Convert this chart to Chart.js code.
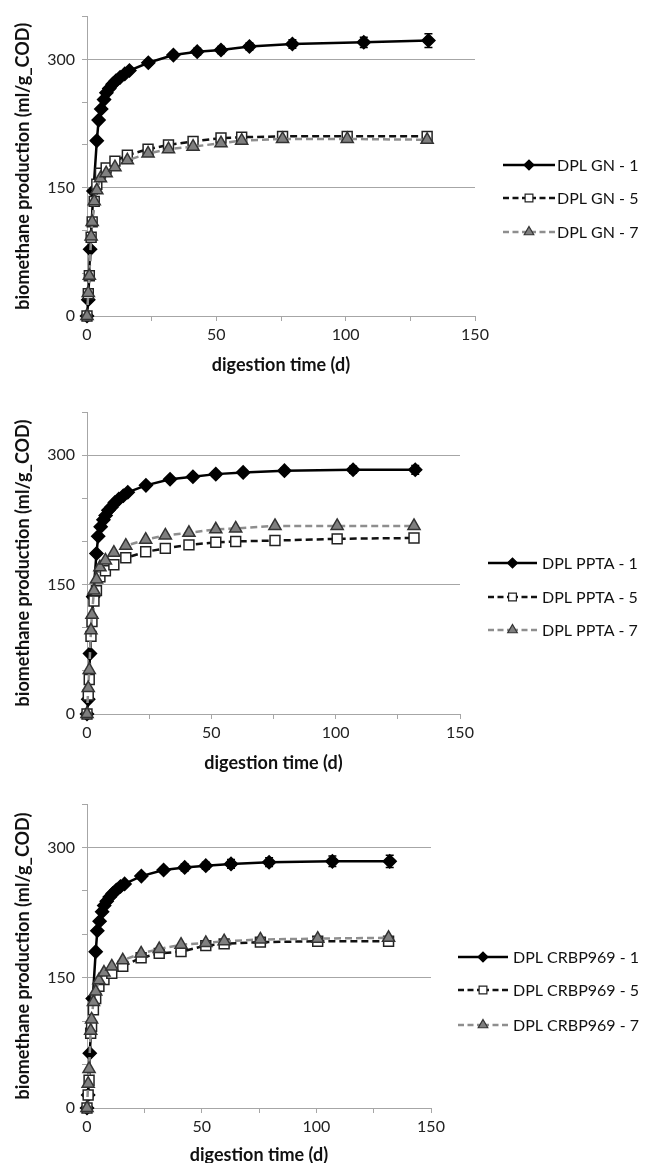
<!DOCTYPE html>
<html>
<head>
<meta charset="utf-8">
<script src="https://cdn.jsdelivr.net/npm/chart.js@4.4.1/dist/chart.umd.min.js"></script>
<style>
  body { margin: 0; background: #fff; overflow: hidden; width: 647px; height: 1163px; position: relative; }
  canvas { position: absolute; left: 0; }
</style>
</head>
<body>
<canvas id="gn" width="647" height="380" style="top:0px"></canvas>
<canvas id="ppta" width="647" height="400" style="top:380px"></canvas>
<canvas id="crbp" width="647" height="390" style="top:780px"></canvas>
<script>
//Sampling days (d)
const days1 = [0, 0.5, 1.2, 2.5, 3.8, 4.5, 5.5, 6.6, 7.5, 8.6, 9.9, 11.2, 12.8, 14.6, 16.4, 23.7, 33.4, 42.6, 51.8, 62.8, 79.4, 107, 132];
const days57 = [0, 0.5, 0.9, 1.6, 2.0, 2.8, 3.8, 5.2, 7.4, 10.8, 15.6, 23.6, 31.5, 41, 51.8, 59.8, 75.6, 100.6, 131.5];

//Cumulative biomethane production (ml/g_COD)
const gn1 = [0, 19, 78, 146, 205, 229, 242, 253, 261, 266, 271, 275, 279, 283, 287, 296, 305, 309, 311, 315, 318, 320, 322];
const gn5 = [0, 26, 47, 92, 110, 134, 154, 167, 173, 181, 188, 195, 200, 204, 208, 209, 210, 210, 210];
const gn7 = [0, 27, 47, 93, 110, 134, 147, 161, 167, 174, 182, 190, 195, 198, 202, 205, 207, 207, 206];

const ppta1 = [0, 17, 70, 136, 186, 206, 217, 225, 230, 236, 240, 245, 249, 253, 257, 265, 272, 275, 278, 280, 282, 283, 283];
const ppta5 = [0, 22, 40, 90, 107, 131, 143, 159, 166, 173, 181, 188, 192, 196, 199, 200, 201, 203, 204];
const ppta7 = [0, 30, 51, 97, 115, 143, 156, 170, 178, 187, 195, 202, 207, 210, 214, 215, 218, 218, 218];

const crbp1 = [0, 15, 63, 126, 180, 204, 215, 226, 233, 238, 243, 247, 251, 255, 258, 267, 274, 277, 279, 281, 283, 284, 284];
const crbp5 = [0, 15, 32, 86, 94, 113, 126, 140, 148, 155, 163, 173, 178, 180, 187, 189, 191, 192, 192];
const crbp7 = [0, 28, 45, 89, 102, 122, 134, 147, 156, 163, 170, 178, 183, 188, 190, 192, 194, 195, 196];

//Standard deviations of the "- 1" series
const gnErr = [0, 0, 0, 0, 0, 0, 0, 0, 0, 0, 0, 0, 0, 0, 0, 3, 3, 4, 4, 4, 5, 6, 8];
const pptaErr = [0, 0, 0, 0, 0, 0, 0, 0, 0, 0, 0, 0, 0, 0, 0, 2, 2, 3, 3, 3, 3, 4, 5];
const crbpErr = [0, 0, 0, 0, 0, 0, 0, 0, 0, 0, 0, 0, 0, 0, 0, 3, 3, 4, 4, 5, 5, 6, 7];

const yTicksShown = [0, 150, 300];
const xTicksShown = [0, 50, 100, 150];
const xTitle = 'digestion time (d)';
const yTitle = 'biomethane production (ml/g_COD)';

const FONT = 'Lato, "Open Sans", sans-serif';
const AXIS_GREY = '#a6a6a6';

const styles = [
    { color: '#000', dash: [], pointStyle: 'rectRot', radius: 6.5, fill: '#000', stroke: '#000', legendRadius: 5 },
    { color: '#111', dash: [7, 4], pointStyle: 'rect', radius: 7, fill: '#fff', stroke: '#222', legendRadius: 5.5 },
    { color: '#8e8e8e', dash: [7, 4], pointStyle: 'triangle', radius: 7, fill: '#7f7f7f', stroke: '#333', legendRadius: 5.5 }
];

function toPoints(xs, ys) {
    return xs.map((x, i) => ({ x: x, y: ys[i] }));
}

function makeChart(id, opt) {
    const names = opt.names;
    const series = [
        toPoints(days1, opt.s1),
        toPoints(days57, opt.s5),
        toPoints(days57, opt.s7)
    ];

    const datasets = series.map((pts, k) => ({
        label: names[k],
        data: pts,
        borderColor: styles[k].color,
        borderWidth: 2.5,
        borderDash: styles[k].dash,
        tension: 0,
        clip: false,
        pointStyle: styles[k].pointStyle,
        pointRadius: styles[k].radius,
        pointBackgroundColor: styles[k].fill,
        pointBorderColor: styles[k].stroke,
        pointBorderWidth: 1.5,
        order: 3 - k
    }));

    const errorBars = { //draws the +/- sd whiskers of the first series
        id: 'errorBars',
        afterDatasetsDraw(chart) {
            const c = chart.ctx;
            const ys = chart.scales.y, xs = chart.scales.x;
            c.save();
            c.strokeStyle = '#000';
            c.lineWidth = 1.5;
            opt.err.forEach((e, i) => {
                if (!e) return;
                const px = xs.getPixelForValue(days1[i]);
                const top = ys.getPixelForValue(opt.s1[i] + e);
                const bot = ys.getPixelForValue(opt.s1[i] - e);
                c.beginPath();
                c.moveTo(px, top); c.lineTo(px, bot);
                c.moveTo(px - 4, top); c.lineTo(px + 4, top);
                c.moveTo(px - 4, bot); c.lineTo(px + 4, bot);
                c.stroke();
            });
            c.restore();
        }
    };

    const sideLegend = { //legend with line sample + marker, like the excel one
        id: 'sideLegend',
        afterDraw(chart) {
            const c = chart.ctx;
            const L = opt.legend;
            const mid = (L.x0 + L.x1) / 2;
            c.save();
            datasets.forEach((ds, k) => {
                const y = L.rows[k];
                c.strokeStyle = styles[k].color;
                c.lineWidth = 2.5;
                c.setLineDash(k === 0 ? [] : [6, 3.5]);
                //each half starts at its outer end so the dashes sit symmetric
                c.beginPath();
                c.moveTo(L.x0, y);
                c.lineTo(mid, y);
                c.stroke();
                c.beginPath();
                c.moveTo(L.x1, y);
                c.lineTo(mid, y);
                c.stroke();
                c.setLineDash([]);
                c.fillStyle = styles[k].fill;
                c.strokeStyle = styles[k].stroke;
                c.lineWidth = 1.2;
                Chart.helpers.drawPoint(c, { pointStyle: styles[k].pointStyle, radius: styles[k].legendRadius, rotation: 0, borderWidth: 1.2 }, mid, y);
                c.fillStyle = '#111';
                c.font = '16px ' + FONT;
                c.textBaseline = 'middle';
                c.textAlign = 'left';
                c.fillText(ds.label, L.tx, y + 1);
            });
            c.restore();
        }
    };

    const canvas = document.getElementById(id);
    const H = canvas.height;

    return new Chart(canvas, {
        type: 'line',
        data: { datasets: datasets },
        plugins: [errorBars, sideLegend],
        options: {
            responsive: false,
            animation: false,
            layout: { padding: { left: 0, top: opt.top, right: 647 - opt.right, bottom: 0 } },
            plugins: {
                legend: { display: false },
                tooltip: { enabled: false }
            },
            scales: {
                x: {
                    type: 'linear',
                    min: 0,
                    max: 150,
                    ticks: {
                        stepSize: 25,
                        autoSkip: false,
                        maxRotation: 0,
                        padding: 4,
                        color: '#222',
                        font: { family: FONT, size: 16 },
                        callback: v => xTicksShown.includes(v) ? v : ''
                    },
                    grid: { drawOnChartArea: false, drawTicks: true, tickLength: 5, tickColor: AXIS_GREY },
                    border: { color: AXIS_GREY, width: 1 },
                    title: {
                        display: true,
                        text: xTitle,
                        color: '#111',
                        font: { family: FONT, size: 18, weight: 'bold' },
                        padding: { top: 0, bottom: opt.xTitlePad }
                    },
                    afterFit: scale => { scale.height = H - opt.bottom; }
                },
                y: {
                    min: 0,
                    max: 350,
                    ticks: {
                        stepSize: 50,
                        autoSkip: false,
                        padding: 7,
                        color: '#222',
                        font: { family: FONT, size: 16 },
                        callback: v => yTicksShown.includes(v) ? v : ''
                    },
                    grid: {
                        color: c => (c.tick && c.tick.value > 0 && c.tick.value % 150 === 0) ? AXIS_GREY : 'rgba(0,0,0,0)',
                        lineWidth: 1,
                        tickLength: 5,
                        tickColor: AXIS_GREY
                    },
                    border: { color: AXIS_GREY, width: 1 },
                    title: {
                        display: true,
                        text: yTitle,
                        color: '#111',
                        font: { family: FONT, size: 18, weight: 'bold' },
                        padding: { top: 12, bottom: 0 }
                    },
                    afterFit: scale => { scale.width = 87; }
                }
            }
        }
    });
}

makeChart('gn', {
    names: ['DPL GN - 1', 'DPL GN - 5', 'DPL GN - 7'],
    s1: gn1, s5: gn5, s7: gn7, err: gnErr,
    top: 13, bottom: 316, right: 475, xTitlePad: 4,
    legend: { x0: 503, x1: 555, tx: 557, rows: [165, 198, 232] }
});

makeChart('ppta', {
    names: ['DPL PPTA - 1', 'DPL PPTA - 5', 'DPL PPTA - 7'],
    s1: ppta1, s5: ppta5, s7: ppta7, err: pptaErr,
    top: 32, bottom: 334, right: 460, xTitlePad: 6,
    legend: { x0: 488, x1: 537, tx: 542, rows: [183, 217, 250] }
});

makeChart('crbp', {
    names: ['DPL CRBP969 - 1', 'DPL CRBP969 - 5', 'DPL CRBP969 - 7'],
    s1: crbp1, s5: crbp5, s7: crbp7, err: crbpErr,
    top: 24, bottom: 328, right: 431, xTitlePad: 4,
    legend: { x0: 458, x1: 508, tx: 513, rows: [177, 210, 245] }
});
</script>
</body>
</html>
